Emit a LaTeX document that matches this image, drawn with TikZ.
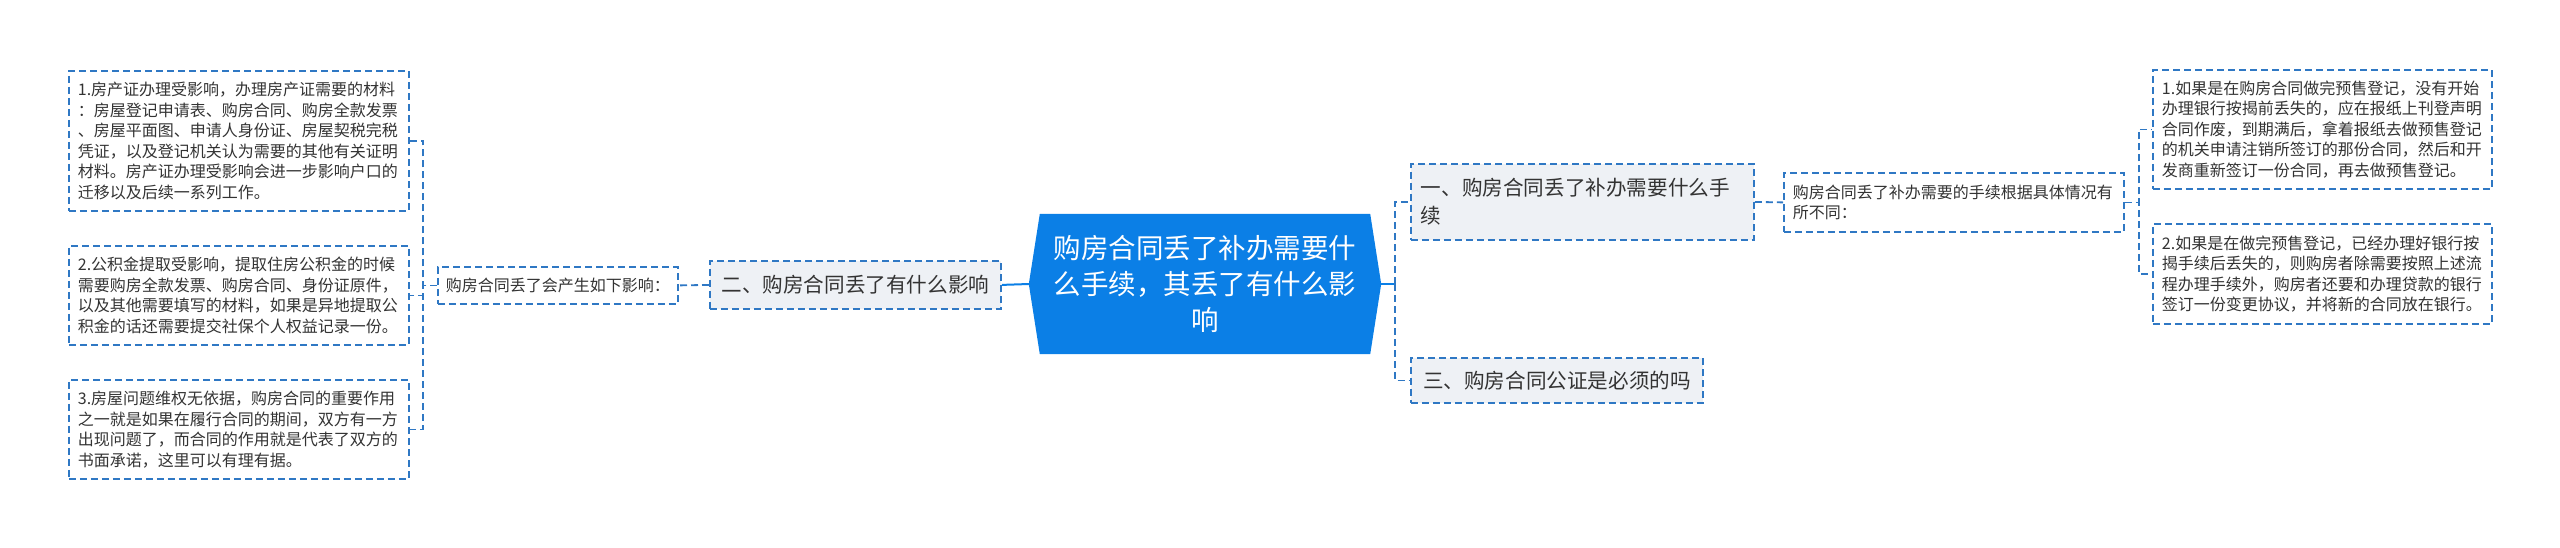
\documentclass[tikz,border=0pt]{standalone}
\usepackage{fontspec}
\setmainfont{Noto Sans CJK SC}
\usetikzlibrary{backgrounds}
\definecolor{lineblue}{HTML}{2F78C4}
\definecolor{mainblue}{HTML}{0B7FE6}
\definecolor{branchfill}{HTML}{EEF1F5}
\definecolor{textgray}{HTML}{333333}
\begin{document}
\begin{tikzpicture}[x=1pt,y=-1pt,
  leaf/.style={draw=lineblue, line width=1.8pt, dash pattern=on 7pt off 4pt, fill=white,
    text=textgray, font=\fontsize{16}{20.5}\selectfont, align=left,
    inner xsep=9pt, inner ysep=0pt, anchor=north west},
  branch/.style={leaf, fill=branchfill, font=\fontsize{20.6}{28}\selectfont, inner xsep=10pt},
  mainnode/.style={minimum width=352pt, minimum height=140pt, inner sep=0pt,
    text=white, font=\fontsize{27.5}{36}\selectfont, align=center},
  conn/.style={draw=lineblue, line width=1.8pt, dash pattern=on 7pt off 4pt},
  solidconn/.style={draw=mainblue, line width=2pt}
]
\useasboundingbox (0,0) rectangle (2560,547);

% main node
\node[mainnode] (main) at (1205,284) {购房合同丢了补办需要什\\么手续，其丢了有什么影\\响};
\begin{scope}[on background layer]
\fill[mainblue] (main.west) -- ([xshift=11pt]main.north west) -- ([xshift=-11pt]main.north east)
  -- (main.east) -- ([xshift=-11pt]main.south east) -- ([xshift=11pt]main.south west) -- cycle;
\end{scope}

% left side
\node[leaf, text width=322pt, minimum height=140pt] (L1) at (68,70)
  {1.房产证办理受影响，办理房产证需要的材料\\：房屋登记申请表、购房合同、购房全款发票\\、房屋平面图、申请人身份证、房屋契税完税\\凭证，以及登记机关认为需要的其他有关证明\\材料。房产证办理受影响会进一步影响户口的\\迁移以及后续一系列工作。};
\node[leaf, text width=322pt, minimum height=99pt] (L2) at (68,245)
  {2.公积金提取受影响，提取住房公积金的时候\\需要购房全款发票、购房合同、身份证原件，\\以及其他需要填写的材料，如果是异地提取公\\积金的话还需要提交社保个人权益记录一份。};
\node[leaf, text width=322pt, minimum height=99pt] (L3) at (68,379)
  {3.房屋问题维权无依据，购房合同的重要作用\\之一就是如果在履行合同的期间，双方有一方\\出现问题了，而合同的作用就是代表了双方的\\书面承诺，这里可以有理有据。};
\node[leaf, minimum width=240pt, minimum height=37pt, inner xsep=7pt] (S) at (437,266)
  {购房合同丢了会产生如下影响：};
\node[branch, minimum width=291pt, minimum height=48pt] (Two) at (709,260)
  {二、购房合同丢了有什么影响};

% right side
\node[branch, text width=323pt, minimum height=76pt] (One) at (1410,163)
  {一、购房合同丢了补办需要什么手\\续};
\node[branch, minimum width=292pt, minimum height=45pt] (Three) at (1410,357)
  {三、购房合同公证是必须的吗};
\node[leaf, text width=322pt, minimum height=59pt] (RM) at (1783,172)
  {购房合同丢了补办需要的手续根据具体情况有\\所不同：};
\node[leaf, text width=321pt, minimum height=119pt] (R1) at (2152,69)
  {1.如果是在购房合同做完预售登记，没有开始\\办理银行按揭前丢失的，应在报纸上刊登声明\\合同作废，到期满后，拿着报纸去做预售登记\\的机关申请注销所签订的那份合同，然后和开\\发商重新签订一份合同，再去做预售登记。};
\node[leaf, text width=321pt, minimum height=100pt] (R2) at (2152,223)
  {2.如果是在做完预售登记，已经办理好银行按\\揭手续后丢失的，则购房者除需要按照上述流\\程办理手续外，购房者还要和办理贷款的银行\\签订一份变更协议，并将新的合同放在银行。};

% connectors
\draw[solidconn] (main.west) -- (Two.east);
\draw[conn] (Two.west) -- (S.east);
\draw[conn] (S.west) -- ++(-14,0) |- (L1.east);
\draw[conn] (S.west) -- ++(-14,0) |- (L2.east);
\draw[conn] (S.west) -- ++(-14,0) |- (L3.east);

\coordinate (rb) at (1395,284);
\draw[solidconn] (main.east) -- (rb);
\draw[conn] (rb) |- (One.west);
\draw[conn] (rb) |- (Three.west);
\draw[conn] (One.east) -- (RM.west);
\draw[conn] (RM.east) -- ++(14,0) |- (R1.west);
\draw[conn] (RM.east) -- ++(14,0) |- (R2.west);
\end{tikzpicture}
\end{document}
